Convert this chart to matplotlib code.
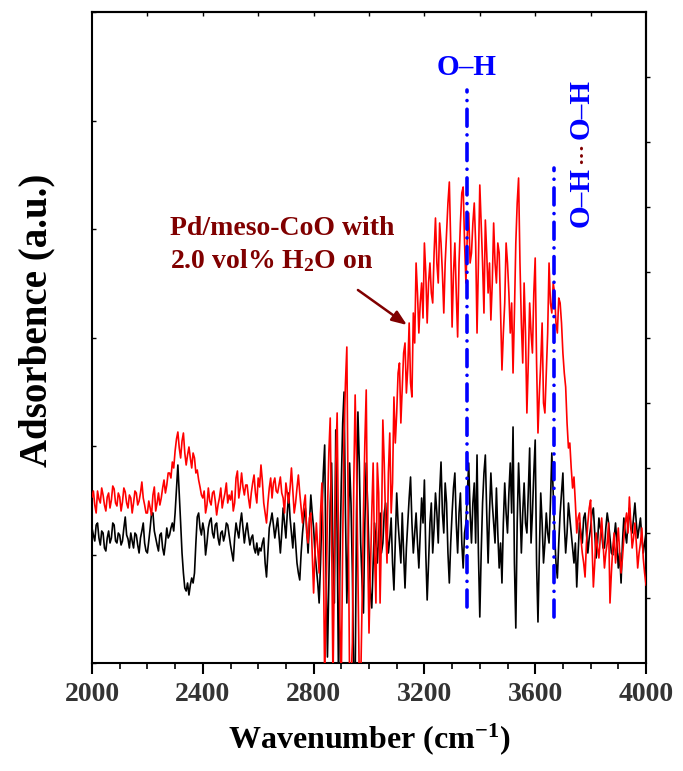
import numpy as np
import matplotlib
matplotlib.use('Agg')
import matplotlib.pyplot as plt
from matplotlib.ticker import MultipleLocator

plt.rcParams['font.family'] = ['Liberation Serif', 'DejaVu Serif']
plt.rcParams['font.weight'] = 'bold'
plt.rcParams['mathtext.fontset'] = 'custom'
plt.rcParams['mathtext.rm'] = 'Liberation Serif:bold'
plt.rcParams['mathtext.it'] = 'Liberation Serif:bold'
plt.rcParams['mathtext.bf'] = 'Liberation Serif:bold'

# ---------------- data (arbitrary absorbance units) ----------------
wavenumber = np.arange(2000, 4001, 5)

red_with_water = [
    166, 172, 158, 150, 172, 164, 160, 175, 168, 158,
    152, 166, 170, 155, 163, 177, 174, 160, 157, 170,
    166, 152, 161, 175, 171, 160, 155, 168, 165, 150,
    160, 172, 170, 158, 162, 170, 181, 165, 158, 150,
    150, 162, 155, 148, 168, 176, 152, 160, 170, 158,
    165, 175, 183, 170, 178, 190, 190, 185, 201, 195,
    212, 224, 231, 215, 205, 222, 230, 210, 198, 208,
    216, 205, 195, 210, 205, 190, 193, 183, 176, 168,
    165, 172, 150, 158, 175, 162, 158, 170, 172, 162,
    148, 158, 165, 175, 155, 163, 170, 180, 160, 168,
    163, 172, 152, 160, 185, 192, 165, 175, 190, 176,
    168, 178, 178, 165, 155, 170, 180, 188, 170, 160,
    185, 176, 198, 182, 160, 150, 140, 160, 175, 185,
    165, 180, 185, 172, 170, 178, 186, 170, 165, 150,
    180, 170, 160, 175, 195, 172, 150, 160, 175, 188,
    170, 155, 140, 158, 168, 130, 120, 145, 150, 110,
    70, 110, 140, 115, 90, 150, 180, 120, -20, 60,
    150, 210, 245, 130, -20, 100, 200, 250, 120, 40,
    -20, 120, 230, 280, 316, 150, -20, -20, 20, 180,
    268, 200, 90, -20, -20, 60, 150, 220, 273, 120,
    30, 90, 150, 200, 110, 60, 200, 170, 60, 130,
    243, 200, 140, 100, 190, 230, 150, 180, 266, 220,
    250, 290, 300, 240, 275, 310, 320, 270, 295, 340,
    280, 266, 350, 320, 400, 370, 330, 360, 380, 345,
    420, 390, 340, 380, 400, 370, 360, 410, 445, 400,
    380, 440, 420, 390, 350, 400, 430, 460, 481, 420,
    336, 390, 420, 370, 326, 400, 440, 470, 476, 420,
    380, 430, 450, 400, 410, 440, 460, 420, 330, 400,
    478, 440, 400, 350, 443, 410, 370, 400, 343, 380,
    440, 400, 380, 420, 410, 350, 293, 330, 360, 420,
    400, 370, 330, 360, 290, 350, 420, 460, 485, 400,
    340, 300, 380, 330, 250, 300, 360, 330, 310, 370,
    405, 300, 230, 270, 300, 340, 260, 250, 290, 330,
    400, 360, 350, 380, 370, 340, 330, 365, 360, 340,
    310, 290, 276, 240, 215, 220, 195, 175, 186, 160,
    130, 145, 150, 125, 110, 100, 86, 120, 140, 155,
    163, 120, 76, 100, 130, 115, 105, 125, 145, 120,
    95, 110, 120, 140, 60, 90, 115, 130, 100, 118,
    135, 110, 90, 105, 125, 140, 150, 130, 166, 140,
    115, 125, 140, 120, 95, 110, 120, 135, 105, 90,
    78,
]

black_reference = [
    135, 128, 122, 138, 140, 125, 118, 132, 130, 115,
    112, 125, 132, 120, 125, 140, 138, 122, 120, 130,
    128, 118, 122, 135, 146, 128, 124, 115, 130, 122,
    115, 130, 128, 118, 110, 125, 132, 140, 120, 112,
    110, 122, 135, 150, 150, 132, 125, 118, 112, 128,
    130, 115, 108, 120, 135, 125, 128, 135, 140, 132,
    150, 175, 198, 170, 140, 110, 90, 75, 72, 80,
    68, 78, 85, 80, 90, 120, 146, 150, 135, 128,
    140, 132, 108, 120, 135, 142, 145, 130, 125, 138,
    140, 125, 118, 130, 132, 122, 128, 140, 138, 128,
    118, 110, 102, 125, 140, 132, 125, 140, 150, 135,
    120, 132, 140, 128, 118, 125, 128, 115, 110, 120,
    108, 115, 112, 120, 125, 100, 86, 110, 135, 142,
    150, 138, 125, 135, 145, 128, 110, 130, 155, 140,
    125, 150, 170, 145, 130, 115, 140, 120, 100, 90,
    83, 110, 130, 145, 155, 135, 110, 140, 168, 150,
    135, 110, 95, 80, 60, 100, 150, 190, 218, 90,
    6, 80, 160, 200, 110, 60, 233, 130, -20, 100,
    180, 240, 271, 150, 60, 120, 200, 160, 90, -20,
    -20, 150, 251, 200, 120, 80, 50, 140, 200, 160,
    110, 70, 55, 100, 140, 120, 100, 130, 150, 110,
    120, 150, 160, 130, 110, 125, 145, 100, 73, 120,
    170, 140, 120, 100, 150, 110, 75, 115, 140, 165,
    186, 140, 110, 130, 150, 120, 95, 130, 165, 140,
    183, 110, 63, 100, 140, 160, 110, 135, 170, 150,
    120, 170, 201, 150, 130, 180, 160, 110, 80, 120,
    150, 175, 190, 140, 110, 150, 170, 120, 95, 130,
    140, 170, 200, 150, 120, 160, 180, 120, 208, 110,
    46, 110, 160, 190, 208, 150, 100, 150, 190, 160,
    140, 120, 175, 130, 95, 120, 80, 140, 180, 150,
    130, 170, 200, 150, 236, 100, 35, 140, 200, 160,
    110, 150, 180, 140, 130, 170, 215, 120, 150, 190,
    223, 100, 41, 110, 170, 140, 100, 120, 150, 130,
    120, 160, 210, 170, 130, 100, 85, 120, 150, 170,
    190, 140, 110, 130, 160, 145, 130, 115, 100, 120,
    76, 110, 140, 130, 120, 145, 150, 130, 110, 125,
    135, 150, 155, 130, 105, 120, 145, 135, 130, 115,
    115, 135, 150, 140, 125, 110, 108, 125, 140, 120,
    95, 110, 80, 120, 145, 130, 120, 140, 155, 135,
    130, 145, 160, 140, 125, 135, 145, 125, 110, 120,
    130,
]

oh_line_x = 3352
oh_line_span = [56, 573]
hbond_line_x = 3668
hbond_line_span = [46, 495]

xticks_major = [2000, 2400, 2800, 3200, 3600, 4000]

# ---------------- figure ----------------
W, H = 683, 771
fig = plt.figure(figsize=(W / 100, H / 100), dpi=100)
ax = fig.add_axes([92 / W, 1 - 663 / H, (646 - 92) / W, (663 - 12) / H])

ax.plot(wavenumber, black_reference, color='black', lw=1.2, zorder=2)
ax.plot(wavenumber, red_with_water, color='#ff0000', lw=1.2, zorder=3)

dash = (0, (4.7, 2.4, 0.01, 2.4))
ax.plot([oh_line_x, oh_line_x], oh_line_span, color='#0000ff', lw=2.6,
        linestyle=dash, dash_capstyle='round', zorder=4)
ax.plot([hbond_line_x, hbond_line_x], hbond_line_span, color='#0000ff', lw=2.6,
        linestyle=dash, dash_capstyle='round', zorder=4)

ax.set_xlim(2000, 4000)
ax.set_ylim(0, 651)

for s in ax.spines.values():
    s.set_linewidth(1.5)

ax.set_xticks(xticks_major)
ax.xaxis.set_minor_locator(MultipleLocator(100))
ax.tick_params(axis='x', which='major', direction='out', length=8, width=1.5,
               labelsize=20, labelcolor='#333333', pad=6)
ax.tick_params(axis='x', which='minor', direction='out', length=4, width=1.2)
ax.set_yticks(np.linspace(0, 651, 7))
ax.tick_params(axis='y', which='major', direction='in', length=3, width=1.0,
               labelleft=False)

secx = ax.secondary_xaxis('top')
secx.set_xticks(np.arange(2200, 3801, 200))
secx.tick_params(direction='in', length=3, width=1.0, labeltop=False)
secx.spines['top'].set_linewidth(1.5)

secy = ax.secondary_yaxis('right')
secy.set_yticks(np.linspace(0, 651, 11)[1:-1])
secy.tick_params(direction='out', length=3, width=1.0, labelright=False)
secy.spines['right'].set_linewidth(1.5)

ax.set_xlabel('Wavenumber (cm$^{\\mathbf{-1}}$)', fontsize=23, fontweight='bold', labelpad=10)
ax.set_ylabel('Adsorbence (a.u.)', fontsize=28, fontweight='bold')
ax.yaxis.set_label_coords(-0.066, 0.527)

maroon = '#800000'
ax.text(2282, 428, 'Pd/meso-CoO with', color=maroon, fontsize=20,
        fontweight='bold', ha='left', va='baseline')
ax.text(2282, 395, '2.0 vol% H$_2$O on', color=maroon, fontsize=20,
        fontweight='bold', ha='left', va='baseline')
ax.annotate('', xy=(3137, 338), xytext=(2960, 373),
            arrowprops=dict(arrowstyle='-|>,head_length=0.9,head_width=0.35',
                            color=maroon, lw=1.8, shrinkA=0, shrinkB=0))

ax.text(3352, 588, 'O\u2013H', color='#0000ff', fontsize=21, fontweight='bold',
        ha='center', va='baseline')
ax.text(3765, 466, 'O\u2013H', color='#0000ff', fontsize=21, fontweight='bold',
        rotation=90, ha='center', va='center')
ax.text(3768, 510, '\u00b7\u00b7\u00b7', color=maroon, fontsize=16, fontweight='bold',
        rotation=90, ha='center', va='center')
ax.text(3765, 554, 'O\u2013H', color='#0000ff', fontsize=21, fontweight='bold',
        rotation=90, ha='center', va='center')

fig.savefig('out.png', dpi=100)
